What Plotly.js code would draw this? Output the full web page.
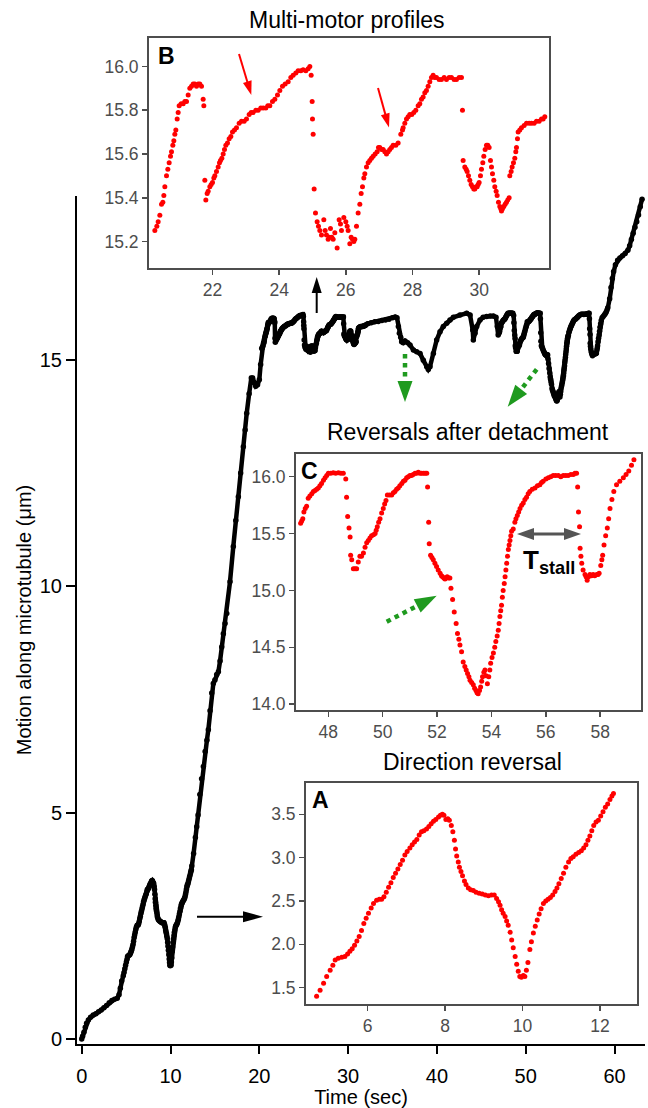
<!DOCTYPE html>
<html><head><meta charset="utf-8">
<script src="https://cdn.plot.ly/plotly-3.0.1.min.js"></script>
<style>body{margin:0;background:#fff}#chart{width:648px;height:1108px}</style>
</head><body><div id="chart"></div>
<script>
// ---------- DATA ----------
// main trace, segment 0 - 4.5 s
const mainT1 = [0,0.1,0.25,0.4,0.55,0.75,1.0,1.3,1.6,1.9,2.2,2.5,2.8,3.1,3.4,3.7,4.0,4.2,4.35,4.5];
const mainY1 = [0,0.06,0.15,0.26,0.35,0.42,0.48,0.53,0.56,0.6,0.64,0.69,0.74,0.8,0.85,0.88,0.9,0.98,1.12,1.28];
// inset A (direction reversal), 4.7 - 12.35 s
const insetA_t = [4.68,4.77,4.86,4.94,5.03,5.1,5.16,5.24,5.33,5.41,5.48,5.54,5.6,5.66,5.72,5.78,5.84,5.9,5.96,6.02,6.09,6.15,6.23,6.3,6.36,6.42,6.48,6.54,6.6,6.66,6.72,6.78,6.84,6.9,6.96,7.02,7.09,7.15,7.21,7.27,7.33,7.39,7.45,7.52,7.58,7.64,7.7,7.76,7.83,7.88,7.93,7.97,8.02,8.07,8.11,8.16,8.2,8.24,8.27,8.3,8.34,8.37,8.41,8.45,8.5,8.54,8.6,8.66,8.73,8.8,8.88,8.96,9.04,9.12,9.2,9.27,9.33,9.38,9.42,9.46,9.5,9.55,9.59,9.63,9.68,9.72,9.76,9.81,9.85,9.89,9.93,9.97,10.02,10.06,10.1,10.14,10.19,10.23,10.28,10.33,10.38,10.43,10.48,10.54,10.6,10.66,10.72,10.78,10.84,10.89,10.94,11.0,11.06,11.12,11.19,11.25,11.31,11.38,11.45,11.52,11.58,11.64,11.69,11.74,11.79,11.84,11.9,11.96,12.02,12.08,12.14,12.2,12.26,12.31,12.35];
const insetA_y = [1.40,1.47,1.55,1.63,1.70,1.76,1.82,1.84,1.85,1.86,1.89,1.92,1.95,1.99,2.04,2.09,2.16,2.24,2.30,2.36,2.42,2.47,2.51,2.52,2.52,2.55,2.60,2.66,2.71,2.77,2.82,2.87,2.92,2.97,3.03,3.07,3.11,3.15,3.18,3.21,3.26,3.30,3.31,3.33,3.36,3.39,3.42,3.44,3.47,3.49,3.50,3.49,3.44,3.45,3.43,3.37,3.30,3.20,3.10,3.02,2.95,2.89,2.84,2.79,2.73,2.69,2.65,2.63,2.62,2.60,2.59,2.58,2.57,2.56,2.57,2.57,2.53,2.49,2.45,2.40,2.36,2.32,2.27,2.22,2.14,2.05,1.96,1.86,1.77,1.69,1.63,1.62,1.64,1.63,1.70,1.79,1.94,2.03,2.13,2.21,2.28,2.35,2.41,2.47,2.50,2.52,2.54,2.57,2.61,2.65,2.70,2.76,2.82,2.89,2.95,2.99,3.01,3.04,3.06,3.08,3.11,3.15,3.20,3.25,3.31,3.37,3.41,3.43,3.48,3.53,3.58,3.62,3.67,3.71,3.74];
// main trace, segment 12.4 - 20.15 s
const mainT2 = [12.4,12.6,12.8,12.95,13.1,13.3,13.5,13.7,13.9,14.1,14.26,14.45,14.64,14.82,15.0,15.2,15.39,15.58,15.77,15.95,16.14,16.33,16.7,17.07,17.35,17.64,17.9,18.2,18.4,18.58,18.85,19.1,19.25,19.4,19.6,19.8,20.0,20.15];
const mainY2 = [3.82,4.1,4.45,4.69,4.95,5.4,5.75,6.02,6.35,6.6,6.83,7.25,7.64,7.85,7.93,8.05,8.11,8.35,8.66,8.95,9.18,9.40,10.1,10.88,11.45,11.98,12.5,13.08,13.45,13.82,14.25,14.6,14.6,14.5,14.42,14.45,14.56,14.9];
// inset B (multi-motor profiles), 20.27 - 31.97 s
const insetB_t = [20.27,20.33,20.37,20.42,20.47,20.51,20.54,20.57,20.62,20.66,20.70,20.74,20.77,20.81,20.84,20.87,20.90,20.94,20.97,21.0,21.06,21.12,21.17,21.22,21.27,21.32,21.37,21.42,21.47,21.52,21.57,21.62,21.67,21.72,21.74,
21.77,21.8,21.84,21.87,21.92,21.96,22.0,22.04,22.07,22.12,22.17,22.21,22.24,22.28,22.32,22.36,22.4,22.45,22.5,22.55,22.6,22.66,22.72,22.8,22.87,22.95,23.02,23.1,23.16,23.22,23.3,23.37,23.45,23.52,23.6,23.66,23.72,23.8,23.87,23.95,24.02,24.1,24.18,24.27,24.35,24.42,24.5,24.57,24.65,24.72,24.8,24.87,24.92,24.96,
24.99,25.0,25.02,25.05,25.09,25.14,25.18,25.22,25.27,25.34,25.38,25.42,25.47,25.51,25.54,25.58,25.62,25.67,25.74,25.8,25.84,25.87,25.94,26.0,26.04,26.07,26.12,26.16,26.2,26.24,26.27,26.32,26.37,26.42,26.46,26.5,26.54,26.57,26.62,26.67,26.72,26.77,26.82,26.88,26.94,26.98,27.02,27.07,27.12,27.17,27.22,27.27,27.32,27.37,27.42,27.5,27.57,27.65,27.7,27.72,27.77,27.82,27.87,27.92,27.98,28.04,28.1,28.17,28.22,28.27,28.32,28.37,28.42,28.47,28.52,28.57,28.62,28.67,28.72,28.8,28.87,28.95,29.02,29.1,29.17,29.25,29.32,29.4,29.47,
29.5,29.52,29.57,29.61,29.64,29.68,29.72,29.76,29.8,29.84,29.87,29.91,29.94,29.97,30.0,30.04,30.07,30.11,30.14,30.18,30.22,30.26,30.3,30.34,30.37,30.4,30.44,30.47,30.51,30.54,30.58,30.62,30.65,30.67,30.7,30.74,30.78,30.82,30.86,30.9,30.92,30.96,30.99,31.03,31.07,31.1,31.12,31.15,31.17,31.22,31.27,31.35,31.42,31.5,31.57,31.65,31.72,31.8,31.87,31.92,31.97];
const insetB_y = [15.25,15.27,15.29,15.32,15.37,15.38,15.41,15.45,15.50,15.53,15.56,15.59,15.61,15.64,15.66,15.69,15.71,15.76,15.79,15.82,15.83,15.83,15.84,15.84,15.87,15.90,15.91,15.92,15.92,15.91,15.92,15.92,15.91,15.85,15.82,
15.48,15.39,15.42,15.43,15.45,15.46,15.47,15.49,15.50,15.52,15.54,15.56,15.57,15.58,15.60,15.62,15.64,15.65,15.67,15.68,15.70,15.71,15.72,15.74,15.75,15.75,15.76,15.78,15.79,15.79,15.80,15.80,15.81,15.81,15.81,15.82,15.82,15.84,15.85,15.87,15.89,15.91,15.92,15.93,15.95,15.96,15.97,15.98,15.98,15.985,15.98,15.99,16.0,15.96,
15.84,15.76,15.69,15.44,15.33,15.29,15.27,15.25,15.23,15.30,15.25,15.23,15.21,15.22,15.26,15.22,15.21,15.24,15.17,15.30,15.28,15.25,15.31,15.29,15.27,15.25,15.19,15.22,15.21,15.20,15.21,15.27,15.33,15.37,15.42,15.45,15.49,15.51,15.54,15.56,15.57,15.58,15.59,15.60,15.61,15.63,15.63,15.62,15.62,15.61,15.60,15.61,15.62,15.63,15.64,15.64,15.65,15.69,15.71,15.72,15.74,15.76,15.77,15.78,15.78,15.79,15.80,15.82,15.83,15.85,15.86,15.88,15.89,15.91,15.93,15.95,15.96,15.95,15.95,15.94,15.94,15.95,15.94,15.95,15.95,15.94,15.94,15.95,15.95,
15.80,15.57,15.54,15.53,15.52,15.50,15.48,15.46,15.45,15.44,15.44,15.45,15.45,15.46,15.47,15.50,15.53,15.56,15.59,15.62,15.64,15.64,15.63,15.57,15.54,15.51,15.48,15.45,15.43,15.41,15.38,15.36,15.35,15.34,15.35,15.36,15.37,15.38,15.39,15.40,15.50,15.52,15.54,15.56,15.58,15.61,15.63,15.67,15.70,15.71,15.72,15.73,15.74,15.74,15.74,15.74,15.75,15.75,15.76,15.76,15.77];
// main trace, segment 32.2 - 46.9 s
const mainT3 = [32.2,32.6,33.0,33.4,33.8,34.2,34.6,35.0,35.3,35.5,35.66,35.77,35.92,36.03,36.2,36.41,36.7,36.97,37.35,37.72,38.1,38.47,38.85,39.03,39.22,39.6,39.97,40.35,40.72,41.1,41.47,41.85,42.6,43.35,43.73,44.03,44.1,44.29,44.48,44.85,45.2,45.6,46.0,46.35,46.65,46.8,46.9];
const mainY3 = [15.80,15.82,15.84,15.85,15.87,15.88,15.90,15.93,15.95,15.93,15.74,15.59,15.50,15.40,15.38,15.42,15.38,15.33,15.22,15.18,15.14,14.99,14.85,14.79,14.85,15.14,15.44,15.62,15.74,15.81,15.88,15.94,15.99,16.03,15.99,15.66,15.44,15.59,15.74,15.88,15.94,15.96,15.97,15.97,15.94,15.74,15.55];
// inset C (reversals after detachment), 46.98 - 59.24 s
const insetC_t = [46.98,47.02,47.06,47.1,47.15,47.2,47.26,47.32,47.39,47.45,47.51,47.57,47.63,47.69,47.75,47.82,47.88,47.94,48.0,48.09,48.18,48.27,48.37,48.46,48.55,48.64,48.67,48.71,48.76,48.8,48.82,48.86,48.92,48.98,49.04,49.1,49.16,49.22,49.29,49.35,49.41,49.47,49.53,49.59,49.66,49.72,49.76,49.8,49.85,49.9,49.96,50.02,50.07,50.12,50.17,50.25,50.33,50.39,50.45,50.51,50.57,50.63,50.7,50.76,50.82,50.88,50.94,51.0,51.06,51.12,51.19,51.25,51.31,51.37,51.43,51.5,51.56,51.62,51.65,51.69,51.71,51.76,51.81,51.86,51.92,51.98,52.04,52.11,52.16,52.2,52.25,52.29,52.33,52.37,52.42,52.47,52.51,52.57,52.63,52.7,52.75,52.8,52.84,52.9,52.96,53.02,53.07,53.12,53.17,53.21,53.27,53.33,53.38,53.43,53.47,53.51,53.56,53.6,53.64,53.67,53.72,53.76,53.8,53.85,53.9,53.94,53.97,54.02,54.07,54.12,54.16,54.21,54.25,54.28,54.31,54.34,54.37,54.4,54.43,54.47,54.5,54.53,54.56,54.59,54.62,54.65,54.68,54.71,54.74,54.8,54.86,54.9,54.95,55.0,55.05,55.11,55.17,55.23,55.29,55.35,55.41,55.5,55.6,55.69,55.78,55.84,55.9,56.0,56.09,56.18,56.27,56.36,56.46,56.55,56.64,56.73,56.82,56.92,57.01,57.07,57.13,57.17,57.2,57.24,57.26,57.29,57.32,57.37,57.44,57.48,57.52,57.57,57.62,57.68,57.74,57.8,57.87,57.92,57.96,58.02,58.06,58.09,58.14,58.2,58.26,58.31,58.36,58.43,58.5,58.6,58.72,58.85,58.95,59.05,59.15,59.24];
const insetC_y = [15.59,15.61,15.63,15.69,15.72,15.74,15.81,15.83,15.85,15.87,15.88,15.89,15.90,15.92,15.94,15.97,15.99,16.01,16.03,16.03,16.035,16.03,16.035,16.03,16.03,15.98,15.82,15.65,15.55,15.47,15.31,15.27,15.19,15.19,15.19,15.25,15.30,15.30,15.33,15.38,15.42,15.44,15.46,15.48,15.49,15.50,15.53,15.56,15.60,15.63,15.68,15.72,15.76,15.79,15.84,15.84,15.84,15.86,15.87,15.89,15.90,15.92,15.94,15.96,15.97,15.99,16.0,16.01,16.01,16.02,16.03,16.03,16.04,16.03,16.03,16.03,16.03,16.03,15.91,15.60,15.41,15.31,15.29,15.27,15.24,15.21,15.18,15.15,15.13,15.12,15.11,15.10,15.11,15.12,15.11,15.11,15.02,14.92,14.81,14.71,14.62,14.57,14.52,14.46,14.37,14.33,14.30,14.27,14.24,14.21,14.19,14.17,14.14,14.12,14.10,14.09,14.12,14.15,14.20,14.24,14.28,14.30,14.25,14.18,14.24,14.30,14.36,14.41,14.45,14.50,14.55,14.60,14.65,14.71,14.77,14.82,14.87,14.94,15.0,15.06,15.12,15.18,15.24,15.30,15.36,15.40,15.44,15.48,15.52,15.54,15.60,15.63,15.66,15.69,15.72,15.75,15.77,15.80,15.82,15.85,15.87,15.89,15.90,15.92,15.93,15.95,15.96,15.98,15.99,16.0,16.01,16.01,16.01,16.0,16.01,16.01,16.01,16.02,16.02,16.03,16.03,15.91,15.69,15.56,15.37,15.30,15.24,15.18,15.14,15.12,15.09,15.12,15.14,15.13,15.14,15.13,15.14,15.14,15.15,15.22,15.27,15.31,15.40,15.48,15.55,15.63,15.72,15.80,15.87,15.93,15.96,15.99,16.02,16.05,16.10,16.15];
// main trace, segment 59.45 - 63.1 s
const mainT4 = [59.45,59.6,59.75,59.9,60.1,60.35,60.6,60.9,61.2,61.5,61.7,61.9,62.1,62.3,62.5,62.7,62.9,63.1];
const mainY4 = [16.35,16.6,16.8,16.95,17.1,17.2,17.25,17.3,17.35,17.42,17.52,17.66,17.8,17.93,18.05,18.2,18.38,18.55];
// tick labels
const mainXTicks = [0, 10, 20, 30, 40, 50, 60];
const mainYTicks = [0, 5, 10, 15];
const bXTicks = [22, 24, 26, 28, 30];
const bYTicks = [15.2, 15.4, 15.6, 15.8, 16.0];
const cXTicks = [48, 50, 52, 54, 56, 58];
const cYTicks = [14.0, 14.5, 15.0, 15.5, 16.0];
const aXTicks = [6, 8, 10, 12];
const aYTicks = [1.5, 2.0, 2.5, 3.0, 3.5];

// ---------- GEOMETRY helpers (pixel -> paper) ----------
const W = 648, H = 1108, ML = 77, MR = 3, MT = 10, MB = 64;
const PW = W - ML - MR, PH = H - MT - MB;
const X = p => (p - ML) / PW;
const Y = p => (H - MB - p) / PH;
const FONT = 'Liberation Sans, Arial, Helvetica, sans-serif';
const GREY = '#4d4d4d';

const mainT = [].concat(mainT1, insetA_t, mainT2, insetB_t, mainT3, insetC_t, mainT4);
const mainY = [].concat(mainY1, insetA_y, mainY2, insetB_y, mainY3, insetC_y, mainY4);

const traces = [
  {x: mainT, y: mainY, xaxis: 'x', yaxis: 'y', type: 'scatter', mode: 'lines+markers',
   line: {color: '#000', width: 4.5}, marker: {color: '#000', size: 5.5}, hoverinfo: 'skip'},
  {x: insetB_t, y: insetB_y, xaxis: 'x2', yaxis: 'y2', type: 'scatter', mode: 'markers',
   marker: {color: '#ff0000', size: 5}},
  {x: insetC_t, y: insetC_y, xaxis: 'x3', yaxis: 'y3', type: 'scatter', mode: 'markers',
   marker: {color: '#ff0000', size: 5}},
  {x: insetA_t, y: insetA_y, xaxis: 'x4', yaxis: 'y4', type: 'scatter', mode: 'markers',
   marker: {color: '#ff0000', size: 5}}
];

function insetAxis(domain, range, anchor, vals, fmt) {
  return {domain: domain, range: range, anchor: anchor, showgrid: false, zeroline: false,
    showline: true, mirror: true, linecolor: GREY, linewidth: 2,
    ticks: 'outside', ticklen: 5, tickwidth: 1.5, tickcolor: GREY,
    tickmode: 'array', tickvals: vals, ticktext: vals.map(v => fmt ? v.toFixed(1) : String(v)),
    tickfont: {family: FONT, size: 17.5, color: GREY}};
}

// arrows drawn as shapes (shaft + triangular head)
function arrow(x0, y0, x1, y1, color, lw, hl, hw, dash, both) {
  const dx = x1 - x0, dy = y1 - y0, L = Math.hypot(dx, dy);
  const ux = dx / L, uy = dy / L, nx = -uy, ny = ux;
  const head = (tx, ty, sx, sy) => {
    const bx = tx - sx * hl, by = ty - sy * hl;
    return {type: 'path', xref: 'paper', yref: 'paper', layer: 'above',
      path: `M ${X(tx)},${Y(ty)} L ${X(bx + nx * hw / 2)},${Y(by + ny * hw / 2)} L ${X(bx - nx * hw / 2)},${Y(by - ny * hw / 2)} Z`,
      fillcolor: color, line: {width: 0}};
  };
  const sx0 = both ? x0 + ux * hl * 0.9 : x0, sy0 = both ? y0 + uy * hl * 0.9 : y0;
  const out = [{type: 'line', xref: 'paper', yref: 'paper', layer: 'above',
    x0: X(sx0), y0: Y(sy0), x1: X(x1 - ux * hl * 0.9), y1: Y(y1 - uy * hl * 0.9),
    line: {color: color, width: lw, dash: dash || 'solid'}}];
  out.push(head(x1, y1, ux, uy));
  if (both) out.push(head(x0, y0, -ux, -uy));
  return out;
}
const GREEN = '#1f9a1f';
const shapes = [].concat(
  arrow(316.7, 313, 316.7, 277, '#000', 2, 16, 10),
  arrow(197, 916.7, 263, 916.7, '#000', 2, 20, 11),
  arrow(239, 54, 251.3, 95, '#ff0000', 2, 14, 9),
  arrow(378, 88, 389, 127.5, '#ff0000', 2, 14, 9),
  arrow(405, 354, 405, 402, GREEN, 4.5, 21, 15, 'dot'),
  arrow(536.7, 369.3, 507.7, 406.7, GREEN, 4.5, 22, 15, 'dot'),
  arrow(386.7, 621.7, 436.7, 595.7, GREEN, 4.5, 22, 15, 'dot'),
  arrow(517, 534, 581, 534, '#555555', 3, 17, 12, 'solid', true)
);

function label(text, px, py, size, bold) {
  return {text: bold ? '<b>' + text + '</b>' : text, xref: 'paper', yref: 'paper',
    x: X(px), y: Y(py), xanchor: 'center', yanchor: 'middle', showarrow: false,
    font: {family: FONT, size: size, color: '#000'}};
}
const annotations = [
  label('Multi-motor profiles', 347, 20, 23),
  label('Reversals after detachment', 468, 432, 23),
  label('Direction reversal', 472, 762, 23),
  label('B', 166, 56, 23, true),
  label('C', 309, 471, 23, true),
  label('A', 320, 800, 23, true),
  label('T<sub>stall</sub>', 549, 562, 26, true)
];

const layout = {
  width: W, height: H, margin: {l: ML, r: MR, t: MT, b: MB},
  paper_bgcolor: '#fff', plot_bgcolor: 'rgba(0,0,0,0)', showlegend: false,
  font: {family: FONT, color: '#000'},
  xaxis: {domain: [0, 1], range: [-0.53, 63.43], anchor: 'y', showgrid: false, zeroline: false,
    showline: true, linecolor: '#000', linewidth: 2, ticks: 'outside', ticklen: 8, tickwidth: 2,
    tickcolor: '#000', tickmode: 'array', tickvals: mainXTicks, ticklabelstandoff: 5,
    tickfont: {family: FONT, size: 20, color: '#000'},
    title: {text: 'Time (sec)', font: {family: FONT, size: 20, color: '#000'}, standoff: 0}},
  yaxis: {domain: [0, Y(196)], range: [-0.11, 18.62], anchor: 'x', showgrid: false, zeroline: false,
    showline: true, linecolor: '#000', linewidth: 2, ticks: 'outside', ticklen: 9, tickwidth: 2,
    tickcolor: '#000', tickmode: 'array', tickvals: mainYTicks, tickfont: {family: FONT, size: 20, color: '#000'},
    title: {text: 'Motion along microtubule (μm)', font: {family: FONT, size: 20, color: '#000'}, standoff: 3}},
  xaxis2: insetAxis([X(149), X(549)], [20.095, 32.096], 'y2', bXTicks),
  yaxis2: insetAxis([Y(268), Y(38)], [15.079, 16.130], 'x2', bYTicks, true),
  xaxis3: insetAxis([X(296), X(641)], [46.81, 59.50], 'y3', cXTicks),
  yaxis3: insetAxis([Y(710), Y(454)], [13.948, 16.20], 'x3', cYTicks, true),
  xaxis4: insetAxis([X(306), X(637)], [4.406, 12.958], 'y4', aXTicks),
  yaxis4: insetAxis([Y(1004), Y(783)], [1.312, 3.861], 'x4', aYTicks, true),
  shapes: shapes,
  annotations: annotations
};

Plotly.newPlot('chart', traces, layout, {displayModeBar: false, staticPlot: true});
</script></body></html>
